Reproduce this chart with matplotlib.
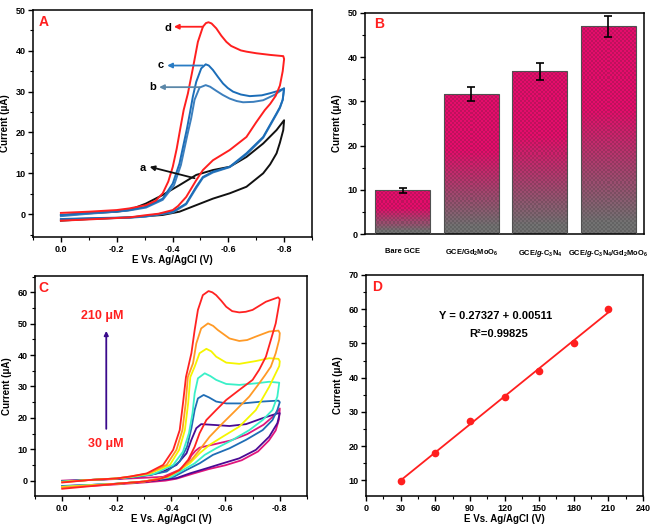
import matplotlib
matplotlib.use("Agg")
import matplotlib.pyplot as plt
import numpy as np
from matplotlib.ticker import MultipleLocator

plt.rcParams['font.family'] = ['Liberation Sans', 'DejaVu Sans']
plt.rcParams['font.weight'] = 'bold'
plt.rcParams['axes.labelweight'] = 'bold'
plt.rcParams['mathtext.fontset'] = 'custom'
plt.rcParams['mathtext.rm'] = 'Liberation Sans:bold'
plt.rcParams['mathtext.it'] = 'Liberation Sans:bold:italic'
plt.rcParams['mathtext.bf'] = 'Liberation Sans:bold'

# ---- Panel A: CVs of the four electrodes, (E in V, I in uA), loop 0 -> -0.8 -> 0
cv_a = [(0, -0.3), (-0.1, 0.2), (-0.2, 0.6), (-0.245, 1.0), (-0.305, 2.6), (-0.365, 4.7),
        (-0.425, 7.1), (-0.485, 9.6), (-0.545, 10.8), (-0.605, 11.6), (-0.665, 14.0),
        (-0.725, 17.3), (-0.773, 20.6), (-0.8, 23.0), (-0.797, 20.6), (-0.785, 17.5),
        (-0.773, 14.9), (-0.75, 12.2), (-0.725, 10.0), (-0.665, 6.7), (-0.605, 5.1),
        (-0.545, 3.8), (-0.485, 2.2), (-0.425, 0.6), (-0.365, -0.2), (-0.245, -0.8),
        (-0.1, -1.2), (0, -1.6)]
cv_b = [(0, -0.5), (-0.1, 0.1), (-0.2, 0.6), (-0.245, 0.9), (-0.305, 1.6), (-0.365, 3.5),
        (-0.405, 7.0), (-0.43, 12.0), (-0.452, 19.0), (-0.467, 23.5), (-0.479, 28.0),
        (-0.497, 31.0), (-0.519, 31.6), (-0.535, 31.2), (-0.557, 30.2), (-0.58, 29.2),
        (-0.605, 28.3), (-0.63, 27.7), (-0.653, 27.4), (-0.69, 27.5), (-0.725, 27.9),
        (-0.765, 29.2), (-0.8, 30.8),
        (-0.795, 28.0), (-0.785, 26.0), (-0.773, 24.5), (-0.725, 18.7), (-0.665, 14.6),
        (-0.605, 11.5), (-0.545, 10.2), (-0.509, 8.9), (-0.485, 6.4), (-0.449, 2.4),
        (-0.401, 0.4), (-0.305, -0.6), (-0.245, -0.9), (-0.1, -1.1), (0, -1.3)]
cv_c = [(0, -0.2), (-0.1, 0.3), (-0.2, 0.7), (-0.245, 1.0), (-0.305, 1.8), (-0.365, 3.8),
        (-0.401, 7.5), (-0.425, 12.4), (-0.452, 21.0), (-0.463, 25.0), (-0.473, 28.8),
        (-0.485, 32.4), (-0.503, 35.7), (-0.519, 36.7), (-0.53, 36.4), (-0.545, 35.3),
        (-0.563, 33.6), (-0.581, 32.0), (-0.598, 30.9), (-0.617, 30.0), (-0.645, 29.3),
        (-0.677, 28.9), (-0.72, 29.1), (-0.749, 29.6), (-0.78, 30.2), (-0.8, 30.8),
        (-0.795, 28.0), (-0.785, 26.2), (-0.773, 24.7), (-0.725, 18.9), (-0.665, 14.9),
        (-0.605, 11.6), (-0.545, 10.4), (-0.509, 9.1), (-0.485, 6.7), (-0.449, 2.6),
        (-0.401, 0.6), (-0.305, -0.5), (-0.245, -0.8), (-0.1, -1.0), (0, -1.2)]
cv_d = [(0, 0.3), (-0.1, 0.6), (-0.2, 1.0), (-0.245, 1.4), (-0.305, 2.2), (-0.34, 3.3),
        (-0.365, 5.1), (-0.385, 8.0), (-0.401, 11.6), (-0.415, 16.0), (-0.428, 21.0),
        (-0.44, 25.5), (-0.455, 29.5), (-0.473, 35.7), (-0.491, 42.2), (-0.509, 45.9),
        (-0.52, 46.8), (-0.529, 47.0), (-0.54, 46.7), (-0.557, 45.5), (-0.575, 43.7),
        (-0.593, 42.2), (-0.61, 41.2), (-0.629, 40.6), (-0.645, 40.1), (-0.665, 39.8),
        (-0.701, 39.4), (-0.75, 39.0), (-0.797, 38.7),
        (-0.8, 38.0), (-0.795, 35.0), (-0.785, 31.5), (-0.77, 29.0),
        (-0.75, 27.0), (-0.731, 25.5), (-0.70, 22.5), (-0.665, 18.9), (-0.605, 15.7),
        (-0.545, 13.2), (-0.509, 10.8), (-0.485, 8.3), (-0.449, 4.2), (-0.42, 2.0),
        (-0.401, 1.0), (-0.35, 0.1), (-0.305, -0.25), (-0.245, -0.8), (-0.1, -1.3), (0, -1.6)]

# ---- Panel B: peak currents of the electrodes
electrodes = ['Bare GCE', 'GCE/Gd$_2$MoO$_6$', 'GCE/$\\mathit{g}$-C$_3$N$_4$',
              'GCE/$\\mathit{g}$-C$_3$N$_4$/Gd$_2$MoO$_6$']
peak_current = [9.9, 31.6, 36.8, 47.0]
peak_error = [0.6, 1.6, 1.9, 2.4]

# ---- Panel C: CVs at increasing concentration (30 -> 210 uM)
cv_30 = [(0, 0.0), (-0.1, 0.2), (-0.2, 0.5), (-0.3, 0.9), (-0.371, 1.2), (-0.43, 3.4),
         (-0.46, 5.5), (-0.475, 8.0), (-0.49, 9.5), (-0.505, 10.5), (-0.53, 11.0),
         (-0.56, 11.6), (-0.62, 12.8), (-0.68, 14.8), (-0.74, 17.8), (-0.78, 20.8),
         (-0.8, 23.0), (-0.797, 19.5), (-0.785, 16.0), (-0.76, 12.8), (-0.72, 9.3),
         (-0.66, 6.5), (-0.6, 4.9), (-0.54, 3.7), (-0.48, 2.2), (-0.42, 0.6), (-0.38, 0.0),
         (-0.3, -0.6), (-0.2, -1.2), (-0.1, -1.7), (0, -2.1)]
cv_60 = [(0, -0.1), (-0.1, 0.2), (-0.2, 0.6), (-0.25, 1.0), (-0.33, 1.9), (-0.371, 2.9),
         (-0.42, 5.0), (-0.457, 8.7), (-0.475, 13.0), (-0.493, 16.7), (-0.511, 18.0),
         (-0.566, 17.7), (-0.615, 17.4), (-0.676, 18.0), (-0.737, 19.9), (-0.791, 21.4),
         (-0.8, 21.5), (-0.791, 18.3), (-0.761, 14.0), (-0.712, 9.8), (-0.651, 7.1),
         (-0.59, 5.5), (-0.53, 3.9), (-0.469, 2.3), (-0.42, 0.8), (-0.3, -0.4),
         (-0.2, -1.0), (-0.1, -1.4), (0, -1.7)]
cv_90 = [(0, -0.2), (-0.1, 0.2), (-0.2, 0.6), (-0.25, 1.0), (-0.33, 2.0), (-0.384, 2.9),
         (-0.432, 6.1), (-0.459, 10.8), (-0.475, 16.7), (-0.487, 22.5), (-0.499, 26.2),
         (-0.52, 27.3), (-0.54, 26.5), (-0.566, 25.2), (-0.603, 24.6), (-0.663, 24.6),
         (-0.737, 25.2), (-0.795, 25.5), (-0.8, 25.0), (-0.791, 22.5), (-0.773, 19.3),
         (-0.737, 16.1), (-0.676, 13.0), (-0.615, 10.3), (-0.554, 8.2), (-0.505, 5.5),
         (-0.457, 3.4), (-0.41, 1.2), (-0.3, -0.3), (-0.2, -1.0), (-0.1, -1.4), (0, -1.8)]
cv_120 = [(0, -0.3), (-0.1, 0.2), (-0.2, 0.7), (-0.25, 1.1), (-0.335, 2.1), (-0.408, 5.0),
          (-0.444, 9.2), (-0.466, 15.1), (-0.479, 21.4), (-0.487, 27.8), (-0.499, 32.6),
          (-0.524, 34.2), (-0.545, 33.3), (-0.566, 32.1), (-0.603, 30.8), (-0.651, 30.5),
          (-0.712, 31.0), (-0.761, 31.5), (-0.798, 31.2), (-0.791, 26.8), (-0.773, 22.5),
          (-0.737, 19.3), (-0.688, 16.1), (-0.627, 13.0), (-0.566, 10.3), (-0.524, 8.2),
          (-0.487, 5.5), (-0.444, 3.4), (-0.40, 1.2), (-0.3, -0.3), (-0.2, -1.0),
          (-0.1, -1.4), (0, -1.9)]
cv_150 = [(0, -0.4), (-0.1, 0.2), (-0.2, 0.7), (-0.25, 1.2), (-0.32, 2.2), (-0.396, 5.0),
          (-0.43, 9.8), (-0.451, 16.1), (-0.463, 24.6), (-0.471, 33.0), (-0.487, 36.3),
          (-0.505, 40.6), (-0.53, 42.0), (-0.548, 41.2), (-0.566, 39.5), (-0.603, 37.6),
          (-0.651, 37.2), (-0.712, 38.1), (-0.761, 39.0), (-0.795, 38.8), (-0.8, 38.0),
          (-0.798, 36.5), (-0.785, 34.2), (-0.761, 29.9), (-0.712, 22.5), (-0.651, 17.2),
          (-0.59, 14.0), (-0.542, 11.4), (-0.505, 8.7), (-0.469, 5.5), (-0.432, 3.4),
          (-0.39, 1.2), (-0.3, -0.3), (-0.2, -1.0), (-0.1, -1.5), (0, -2.0)]
cv_180 = [(0, -0.5), (-0.1, 0.2), (-0.2, 0.7), (-0.25, 1.3), (-0.317, 2.3), (-0.384, 5.0),
          (-0.42, 9.8), (-0.442, 16.1), (-0.454, 24.6), (-0.462, 33.0), (-0.481, 37.4),
          (-0.493, 43.7), (-0.511, 48.5), (-0.536, 50.1), (-0.555, 49.3), (-0.572, 48.0),
          (-0.615, 45.3), (-0.651, 44.5), (-0.68, 44.8), (-0.712, 45.9), (-0.761, 47.5),
          (-0.795, 47.8), (-0.8, 47.0), (-0.798, 45.0), (-0.785, 40.6), (-0.767, 36.3),
          (-0.745, 33.5), (-0.72, 30.5), (-0.688, 26.8), (-0.639, 22.5), (-0.59, 18.3),
          (-0.542, 14.0), (-0.505, 9.8), (-0.475, 6.6), (-0.432, 3.4), (-0.384, 1.2),
          (-0.3, -0.3), (-0.2, -1.0), (-0.1, -1.6), (0, -2.2)]
cv_210 = [(0, -0.6), (-0.1, 0.2), (-0.2, 0.7), (-0.25, 1.3), (-0.311, 2.3), (-0.371, 5.0),
          (-0.408, 9.8), (-0.432, 16.1), (-0.444, 24.6), (-0.455, 33.0), (-0.475, 40.6),
          (-0.487, 48.0), (-0.499, 54.4), (-0.517, 59.1), (-0.538, 60.4), (-0.552, 60.0),
          (-0.566, 59.1), (-0.585, 57.3), (-0.603, 55.4), (-0.625, 54.0), (-0.651, 53.6),
          (-0.675, 53.8), (-0.70, 54.4), (-0.749, 57.0), (-0.794, 58.4), (-0.8, 57.8),
          (-0.798, 56.5), (-0.785, 50.1), (-0.767, 44.8), (-0.749, 39.5), (-0.724, 35.3),
          (-0.70, 32.1), (-0.651, 28.9), (-0.603, 25.7), (-0.566, 22.5), (-0.53, 19.3),
          (-0.505, 15.1), (-0.487, 10.8), (-0.463, 6.6), (-0.432, 3.4), (-0.384, 1.3),
          (-0.35, 0.3), (-0.3, -0.3), (-0.2, -1.0), (-0.1, -1.8), (0, -2.6)]

# ---- Panel D: calibration
conc = [30, 60, 90, 120, 150, 180, 210]
conc_current = [9.8, 18.0, 27.4, 34.4, 42.0, 50.0, 60.0]

RED = '#ff1f1f'
W, H = 661, 530
fig = plt.figure(figsize=(W / 100, H / 100), dpi=100)


def box(l, t, r, b):
    return [l / W, 1 - b / H, (r - l) / W, (b - t) / H]


def style(ax):
    for s in ax.spines.values():
        s.set_linewidth(1.1)
    ax.tick_params(which='major', direction='out', length=3.5, width=1.0,
                   labelsize=6.5, pad=2, top=False, right=False)
    ax.tick_params(which='minor', direction='out', length=2, width=0.8,
                   top=False, right=False)
    for lb in ax.get_xticklabels() + ax.get_yticklabels():
        lb.set_fontweight('bold')


def loop(ax, pts, color, lw=1.4):
    e, i = zip(*pts)
    ax.plot(e, i, color=color, lw=lw, solid_joinstyle='round')


# ---------------- A
axA = fig.add_axes(box(33, 10, 312, 237))
loop(axA, cv_a, '#111111')
loop(axA, cv_b, '#3c7fbd')
loop(axA, cv_c, '#1b6db8')
loop(axA, cv_d, RED)
axA.set_xlim(0.1, -0.9)
axA.set_ylim(-5.6, 50)
axA.set_xticks([0, -0.2, -0.4, -0.6, -0.8])
axA.set_xticklabels(['0.0', '-0.2', '-0.4', '-0.6', '-0.8'])
axA.xaxis.set_minor_locator(MultipleLocator(0.1))
axA.yaxis.set_major_locator(MultipleLocator(10))
axA.yaxis.set_minor_locator(MultipleLocator(5))
axA.set_xlabel('E Vs. Ag/AgCl (V)', fontsize=7, labelpad=1)
axA.set_ylabel('Current (μA)', fontsize=7, labelpad=4)
style(axA)
axA.text(0.037, 0.948, 'A', transform=axA.transAxes, color=RED, fontsize=10,
         fontweight='bold', ha='center', va='center')
arrow_kw = dict(arrowstyle='-|>', lw=1.3, mutation_scale=7, shrinkA=0, shrinkB=0)
for lab, txt_xy, tail, tip, col in [
        ('d', (-0.383, 45.7), (-0.509, 45.9), (-0.405, 45.9), RED),
        ('c', (-0.356, 36.5), (-0.509, 36.4), (-0.381, 36.4), '#2a7cc4'),
        ('b', (-0.329, 31.1), (-0.497, 31.1), (-0.352, 31.1), '#5b87a8'),
        ('a', (-0.293, 11.4), (-0.479, 8.8), (-0.318, 11.6), '#111111')]:
    axA.annotate('', xy=tip, xytext=tail, arrowprops=dict(color=col, **arrow_kw))
    axA.text(*txt_xy, lab, fontsize=8, fontweight='bold', ha='center', va='center')

# ---------------- B
axB = fig.add_axes(box(365, 13, 644, 234))
xpos = np.arange(len(electrodes))
bars = axB.bar(xpos, peak_current, width=0.8, color='none', edgecolor='#505050',
               linewidth=0.8, zorder=3)
pink = np.array([0.90, 0.05, 0.42])
grey = np.array([0.45, 0.45, 0.45])
for bar in bars:
    x0, h = bar.get_x(), bar.get_height()
    nrow, ncol = max(int(h * 2.2), 4), 27
    f = np.linspace(1, 0, nrow)[:, None]
    mix = np.clip((f - 0.05) / 0.55, 0, 1)[:, :, None]
    img = mix * pink + (1 - mix) * grey
    img = np.repeat(img, ncol, axis=1)
    chk = ((np.add.outer(np.arange(nrow), np.arange(ncol)) % 2) * 0.2 + 0.8)[:, :, None]
    img = np.clip(img * chk + (1 - chk) * 0.15, 0, 1)
    im = axB.imshow(img, extent=(x0, x0 + bar.get_width(), 0, h), aspect='auto',
                    interpolation='nearest', zorder=2)
    im.set_clip_path(bar)
axB.errorbar(xpos, peak_current, yerr=peak_error, fmt='none', ecolor='black',
             elinewidth=1.2, capsize=3, capthick=1.2, zorder=4)
axB.set_xlim(-0.55, 3.52)
axB.set_ylim(0, 50)
axB.yaxis.set_major_locator(MultipleLocator(10))
axB.yaxis.set_minor_locator(MultipleLocator(5))
axB.set_xticks(xpos)
axB.set_xticklabels(electrodes)
axB.set_ylabel('Current (μA)', fontsize=7, labelpad=4)
style(axB)
axB.tick_params(axis='x', length=0, labelsize=5.4, pad=10)
axB.text(0.05, 0.949, 'B', transform=axB.transAxes, color=RED, fontsize=10,
         fontweight='bold', ha='center', va='center')

# ---------------- C
axC = fig.add_axes(box(35, 276, 307, 496))
for pts, col in [(cv_30, '#e0157c'), (cv_60, '#4a0a94'), (cv_90, '#1f6db5'),
                 (cv_120, '#3af0c8'), (cv_150, '#f5f500'), (cv_180, '#ff9a26'),
                 (cv_210, '#ff2222')]:
    loop(axC, pts, col, lw=1.3)
axC.set_xlim(0.1, -0.9)
axC.set_ylim(-4.9, 65.2)
axC.set_xticks([0, -0.2, -0.4, -0.6, -0.8])
axC.set_xticklabels(['0.0', '-0.2', '-0.4', '-0.6', '-0.8'])
axC.xaxis.set_minor_locator(MultipleLocator(0.1))
axC.yaxis.set_major_locator(MultipleLocator(10))
axC.yaxis.set_minor_locator(MultipleLocator(5))
axC.set_xlabel('E Vs. Ag/AgCl (V)', fontsize=7, labelpad=1)
axC.set_ylabel('Current (μA)', fontsize=7, labelpad=4)
style(axC)
axC.text(0.031, 0.944, 'C', transform=axC.transAxes, color=RED, fontsize=10,
         fontweight='bold', ha='center', va='center')
axC.annotate('', xy=(-0.162, 47.7), xytext=(-0.162, 16.5),
             arrowprops=dict(arrowstyle='-|>', color='#3a0a8c', lw=1.3,
                             mutation_scale=6, shrinkA=0, shrinkB=0))
axC.text(-0.148, 52.4, '210 μM', color=RED, fontsize=9, fontweight='bold',
         ha='center', va='center')
axC.text(-0.162, 11.7, '30 μM', color=RED, fontsize=9, fontweight='bold',
         ha='center', va='center')

# ---------------- D
axD = fig.add_axes(box(366, 275, 643, 496))
coef = np.polyfit(conc, conc_current, 1)
xfit = np.array([conc[0], conc[-1]])
axD.plot(xfit, np.polyval(coef, xfit), color=RED, lw=1.3)
axD.plot(conc, conc_current, 'o', color=RED, ms=4.5)
axD.set_xlim(0, 240)
axD.set_ylim(5.4, 70)
axD.xaxis.set_major_locator(MultipleLocator(30))
axD.xaxis.set_minor_locator(MultipleLocator(15))
axD.yaxis.set_major_locator(MultipleLocator(10))
axD.yaxis.set_minor_locator(MultipleLocator(5))
axD.set_xlabel('E Vs. Ag/AgCl (V)', fontsize=7, labelpad=1)
axD.set_ylabel('Current (μA)', fontsize=7, labelpad=4)
style(axD)
axD.text(0.039, 0.944, 'D', transform=axD.transAxes, color=RED, fontsize=10,
         fontweight='bold', ha='center', va='center')
axD.text(0.468, 0.815, 'Y = 0.27327 + 0.00511', transform=axD.transAxes,
         fontsize=8, fontweight='bold', ha='center', va='center')
axD.text(0.478, 0.732, 'R²=0.99825', transform=axD.transAxes,
         fontsize=8, fontweight='bold', ha='center', va='center')

fig.savefig('out.png', dpi=100)
